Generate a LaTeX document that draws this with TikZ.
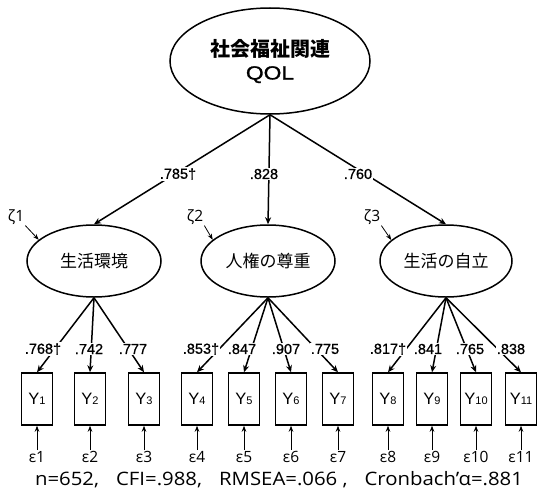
\documentclass[tikz,border=0pt]{standalone}
\usepackage{fontspec}
\setmainfont{Liberation Sans}
\newfontfamily\jp{Noto Sans CJK JP}
\newfontfamily\osans{Open Sans}
\newfontfamily\osanswide{Open Sans}[FakeStretch=1.1]
\newfontfamily\coeffont{Liberation Sans}[FakeBold=0.8]
\newfontfamily\qolfont{Liberation Sans}[FakeStretch=1.2,FakeBold=1.5]
\usetikzlibrary{shapes.geometric,arrows.meta}
\begin{document}
\begin{tikzpicture}[x=1pt,y=-1pt,
 lat/.style={draw, ellipse, line width=1.5pt, inner sep=0pt},
 obs/.style={draw, rectangle, line width=1.5pt, minimum width=31pt, minimum height=52pt, inner sep=0pt, font=\fontsize{16.5}{18}\selectfont},
 pathar/.style={line width=1.5pt, -{Stealth[length=7pt,width=6pt]}},
 smallar/.style={line width=0.8pt, -{Stealth[length=6pt,width=4.5pt]}},
 coef/.style={fill=white, inner sep=1pt, font=\coeffont\fontsize{14.5}{16}\selectfont},
 err/.style={font=\osans\fontsize{15.5}{16}\selectfont, inner sep=1pt},
]
\newcommand{\sd}[1]{{\fontsize{11}{12}\selectfont #1}}
\useasboundingbox (0,0) rectangle (540,495);
\node[lat, minimum width=200pt, minimum height=106pt, align=center, font=\fontsize{20}{23.5}\selectfont] (Q) at (270,61) {{\jp\bfseries 社会福祉関連}\\{\qolfont\fontsize{19}{23.5}\selectfont QOL}};
\node[lat, minimum width=134pt, minimum height=72pt, font=\jp\fontsize{17}{20}\selectfont] (F1) at (94,261) {生活環境};
\node[lat, minimum width=134pt, minimum height=72pt, font=\jp\fontsize{17}{20}\selectfont] (F2) at (268,261) {人権の尊重};
\node[lat, minimum width=132pt, minimum height=72pt, font=\jp\fontsize{17}{20}\selectfont] (F3) at (446,261) {生活の自立};

\node[obs] (Y1) at (37,399) {Y\sd{1}};
\node[obs] (Y2) at (90,399) {Y\sd{2}};
\node[obs] (Y3) at (144,399) {Y\sd{3}};
\node[obs] (Y4) at (197,399) {Y\sd{4}};
\node[obs] (Y5) at (244,399) {Y\sd{5}};
\node[obs] (Y6) at (291,399) {Y\sd{6}};
\node[obs] (Y7) at (338,399) {Y\sd{7}};
\node[obs] (Y8) at (388,399) {Y\sd{8}};
\node[obs] (Y9) at (432,399) {Y\sd{9}};
\node[obs] (Y10) at (476,399) {Y\sd{10}};
\node[obs] (Y11) at (521,399) {Y\sd{11}};

\foreach \i/\x in {1/37,2/90,3/144,4/197,5/244,6/291,7/338,8/388,9/432,10/476,11/521}{
  \node[err] (e\i) at (\x,457) {ε\i};
  \draw[smallar] (e\i.north) -- (Y\i.south);
}

\node[err] (z1) at (16,217) {ζ1};
\node[err] (z2) at (195,217) {ζ2};
\node[err] (z3) at (372,217) {ζ3};
\draw[smallar] (z1.south east) -- (F1.159);
\draw[smallar] (z2.south east) -- (F2.159);
\draw[smallar] (z3.south east) -- (F3.159);

\foreach \f in {F1,F2,F3} \draw[pathar] (Q.south) -- (\f.north);
\foreach \i in {1,2,3} \draw[pathar] (F1.south) -- (Y\i.north);
\foreach \i in {4,5,6,7} \draw[pathar] (F2.south) -- (Y\i.north);
\foreach \i in {8,9,10,11} \draw[pathar] (F3.south) -- (Y\i.north);

\node[coef] (c1) at (178,174) {.785†};
\node[coef] (c2) at (264,174) {.828};
\node[coef] (c3) at (358,174) {.760};

\node[coef] (l1) at (43,349) {.768†};
\node[coef] (l2) at (89,349) {.742};
\node[coef] (l3) at (133,349) {.777};
\node[coef] (l4) at (201,349) {.853†};
\node[coef] (l5) at (242,349) {.847};
\node[coef] (l6) at (286,349) {.907};
\node[coef] (l7) at (325,349) {.775};
\node[coef] (l8) at (388,349) {.817†};
\node[coef] (l9) at (428,349) {.841};
\node[coef] (l10) at (470,349) {.765};
\node[coef] (l11) at (511,349) {.838};

\node[font=\osanswide\fontsize{18.5}{20}\selectfont] (fit) at (279,480) {n=652,\hspace{17pt}CFI=.988,\hspace{17pt}RMSEA=.066 ,\hspace{17pt}Cronbach’α=.881};
\end{tikzpicture}
\end{document}
